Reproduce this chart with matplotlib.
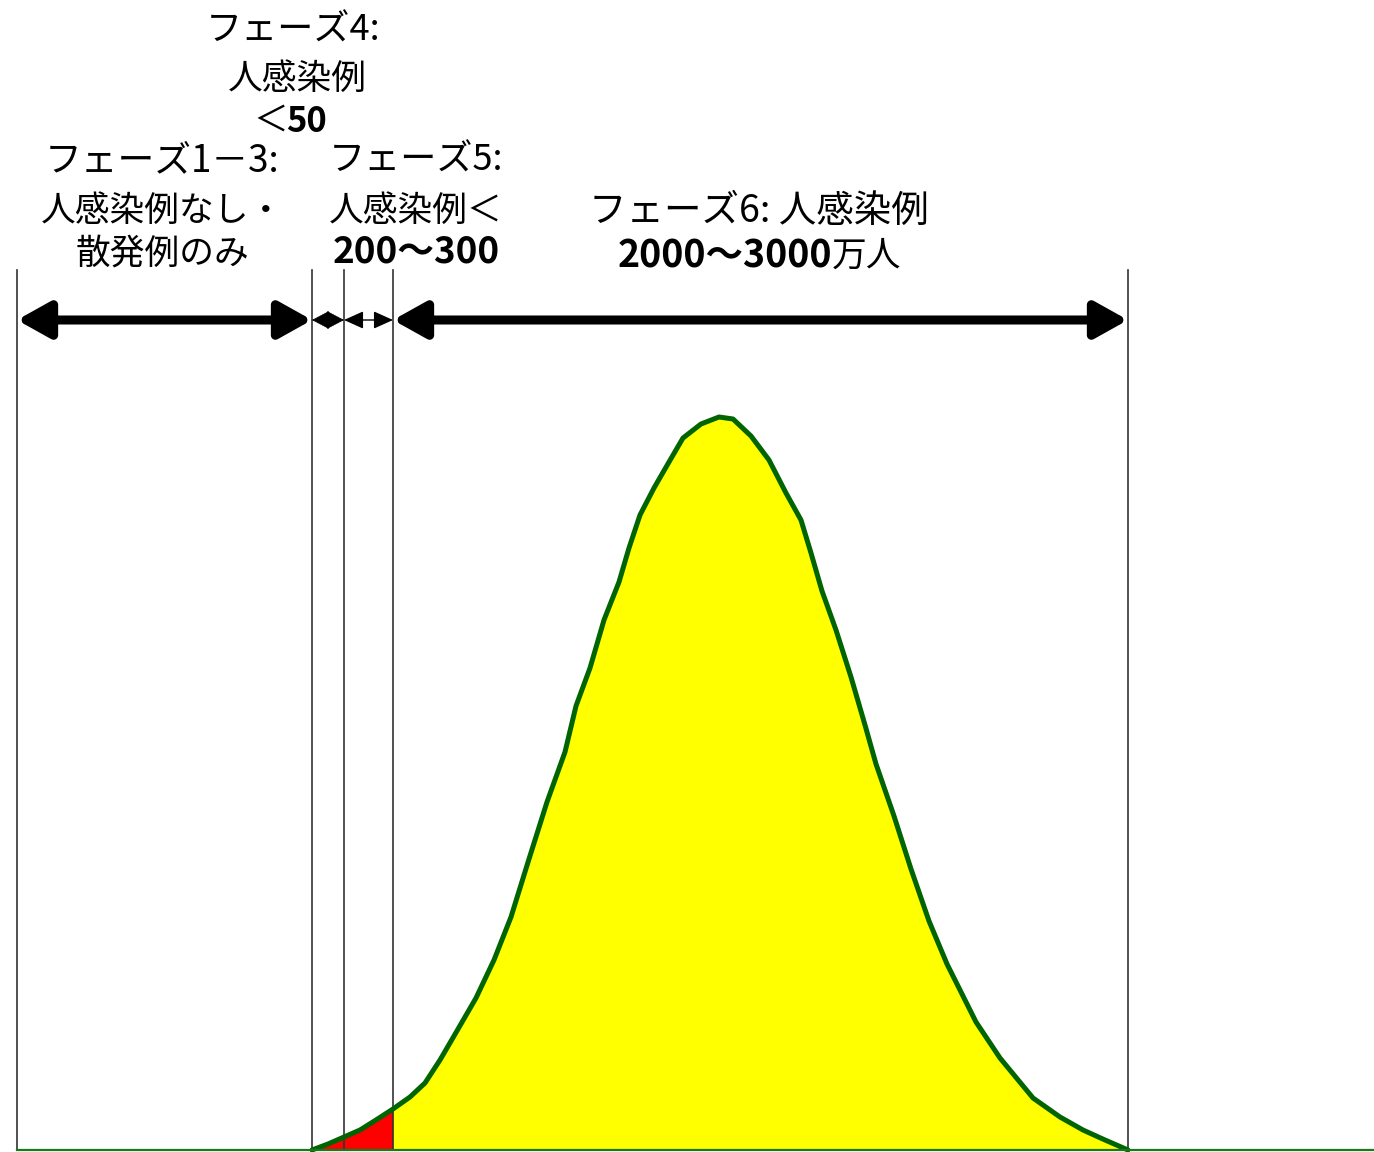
import matplotlib
matplotlib.use("Agg")
import matplotlib.pyplot as plt
import numpy as np

plt.rcParams['font.family'] = ['Noto Sans CJK JP', 'DejaVu Sans']

# Phase boundaries along the time axis
phase_bounds = [17, 312, 344, 393, 1128]
phase_names = ["フェーズ1－3", "フェーズ4", "フェーズ5", "フェーズ6"]

# Epidemic curve (time, number of cases; arbitrary units)
curve_t = [312, 328, 344, 360, 376, 393, 410, 425, 440, 454, 476, 494, 511, 529, 547,
           565, 576, 590, 604, 619, 629, 640, 654, 669, 683, 701, 719, 733, 751, 769,
           786, 801, 811, 822, 836, 851, 865, 876, 894, 911, 929, 947, 976, 1000, 1033,
           1060, 1083, 1105, 1128]
curve_h = [0, 6, 13, 20, 30, 41, 53, 67, 90, 114, 152, 190, 233, 291, 348,
           398, 444, 482, 530, 568, 602, 635, 662, 688, 712, 726, 733, 731, 714, 690,
           657, 630, 597, 559, 520, 473, 425, 386, 334, 281, 229, 186, 128, 92, 52,
           33, 20, 10, 0]

fig = plt.figure(figsize=(13.74, 11.52), dpi=100)
ax = fig.add_axes([0, 0, 1, 1])
ax.set_xlim(0, 1374)
ax.set_ylim(-2, 1150)
ax.axis('off')

t = np.array(curve_t, dtype=float)
h = np.array(curve_h, dtype=float)

# fills
red_mask = t <= phase_bounds[3]
ax.fill_between(t, 0, h, where=red_mask, color='#ff0000', lw=0, zorder=1)
yel_mask = t >= phase_bounds[3]
ax.fill_between(t, 0, h, where=yel_mask, color='#ffff00', lw=0, zorder=1)

# vertical phase lines
line_top = 880
for b in phase_bounds:
    ax.plot([b, b], [0, line_top], color='#333333', lw=1.2, zorder=3)

# curve
ax.plot(t, h, color='#006400', lw=3.6, zorder=4, solid_capstyle='round',
        solid_joinstyle='round')
# baseline
ax.plot([phase_bounds[0], 1374], [0, 0], color='#1a7a1a', lw=1.6, zorder=5)

# arrows
arrow_y = 830
def darrow(x0, x1, lw, hl, hw, ms):
    ax.annotate('', xy=(x1, arrow_y), xytext=(x0, arrow_y),
                arrowprops=dict(arrowstyle=f'<|-|>,head_length={hl},head_width={hw}',
                                lw=lw, color='black', shrinkA=0, shrinkB=0,
                                mutation_scale=ms), zorder=6)

darrow(phase_bounds[0], phase_bounds[1], 6.5, 0.34, 0.19, 58)
darrow(phase_bounds[3], phase_bounds[4], 6.5, 0.34, 0.19, 58)
darrow(phase_bounds[1], phase_bounds[2], 0.5, 0.38, 0.2, 30)
darrow(phase_bounds[2], phase_bounds[3], 1.0, 0.6, 0.27, 20)

def T(x, y, s, bold=False, ha='center', fs=25):
    ax.text(x, 1150 - (y + 4), s, ha=ha, va='center', fontsize=fs,
            fontweight='bold' if bold else 'normal', color='black', zorder=7)

# Phase 4
T(293, 27, "フェーズ4:", fs=26)
T(297, 75, "人感染例")
T(288, 117, "＜", ha='right')
T(286, 117, "50", bold=True, ha='left')
# Phase 1-3
T(162, 157, "フェーズ1－3:", fs=26.5)
T(162, 207, "人感染例なし・")
T(162, 250, "散発例のみ")
# Phase 5
T(416, 157, "フェーズ5:", fs=26)
T(416, 207, "人感染例＜")
T(416, 248, "200～300", bold=True, fs=26.5)
# Phase 6
T(759, 207, "フェーズ6: 人感染例", fs=27)
T(832, 252, "2000～3000", bold=True, ha='right', fs=27)
T(832, 252, "万人", ha='left')

fig.savefig("out.png", dpi=100, facecolor='white')
